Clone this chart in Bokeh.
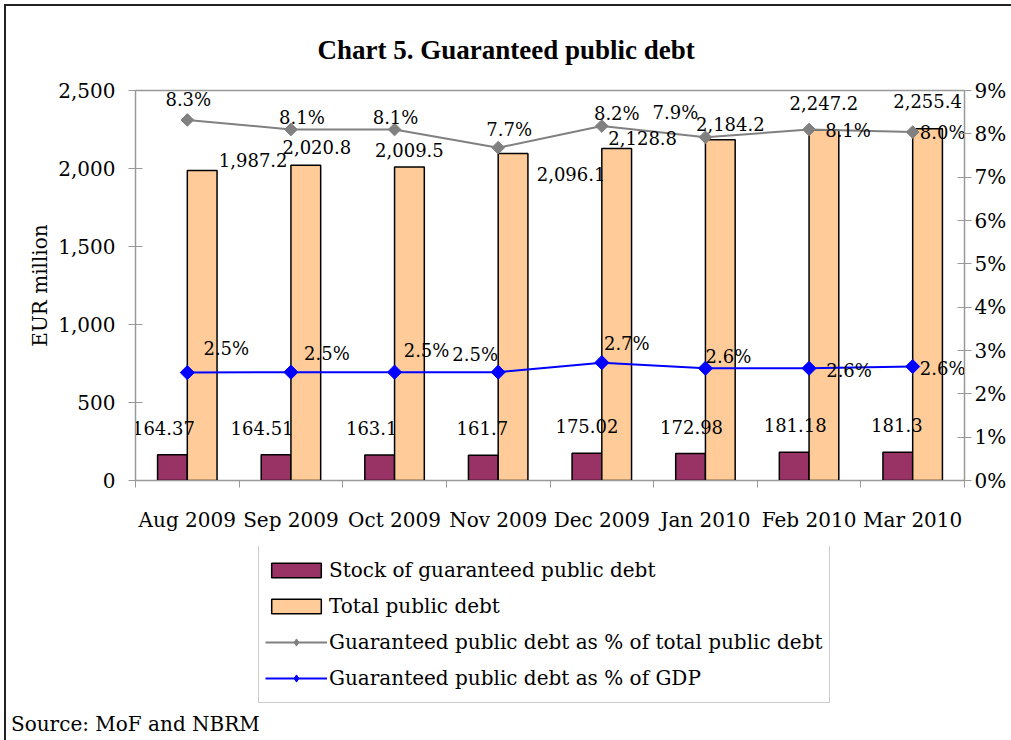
import numpy as np
from bokeh.plotting import figure
from bokeh.layouts import column
from bokeh.models import (Range1d, LinearAxis, FixedTicker, NumeralTickFormatter,
                          PrintfTickFormatter, Legend, LegendItem, Div, ColumnDataSource)
from bokeh.core.properties import value
from bokeh.embed import file_html
from bokeh.resources import INLINE

# ---------------- data ----------------
months = ["Aug 2009", "Sep 2009", "Oct 2009", "Nov 2009", "Dec 2009", "Jan 2010", "Feb 2010", "Mar 2010"]
stock = [164.37, 164.51, 163.1, 161.7, 175.02, 172.98, 181.18, 181.3]
total = [1987.2, 2020.8, 2009.5, 2096.1, 2128.8, 2184.2, 2247.2, 2255.4]
pct_total = [8.32, 8.10, 8.10, 7.68, 8.18, 7.92, 8.10, 8.04]
pct_gdp = [2.49, 2.50, 2.50, 2.50, 2.72, 2.59, 2.59, 2.63]
left_ticks = [0, 500, 1000, 1500, 2000, 2500]
right_ticks = [0, 1, 2, 3, 4, 5, 6, 7, 8, 9]
series_names = ["Stock of guaranteed public debt", "Total public debt",
                "Guaranteed public debt as % of total public debt",
                "Guaranteed public debt as % of GDP"]

# ---------------- label placement (pixels) ----------------
stock_dx = [-9, -14, -8, -1, 0, 1, 1, -1]
stock_dy = [-27] * 8
total_dx = [51, 11, 0, 58, 26, 10, 0, 0]
total_dy = [-10, -18, -17, 20, -10, -16, -27, -28]
ptot_dx = [1, 11, 1, 11, 15, -30, 39, 30]
ptot_dy = [-20, -12, -12, -18, -13, -25, 1, 0]
pgdp_dx = [39, 36, 32, -23, 25, 23, 40, 30]
pgdp_dy = [-24, -19, -22, -18, -19, -12, 2, 2]

FONT = "DejaVu Serif"
MAROON, PEACH, GREY, BLUE = "#993366", "#FFCC99", "#808080", "#0000FF"
idx = np.arange(len(months))
bw = 0.287
x_stock = idx - bw / 2
x_total = idx + bw / 2

W = 1003
p = figure(width=W, height=540, x_range=Range1d(-0.5, 7.5), y_range=Range1d(0, 2500),
           output_backend="svg", toolbar_location=None,
           min_border_left=129, min_border_right=43, min_border_top=84, min_border_bottom=66)
p.extra_y_ranges = {"pct": Range1d(0, 9)}
p.xgrid.visible = False
p.ygrid.visible = False
p.outline_line_color = "#999999"
p.outline_line_width = 1.5
p.background_fill_color = "white"
p.border_fill_color = "white"

# title
p.title.text = "Chart 5. Guaranteed public debt"
p.title.text_font = "Liberation Serif"
p.title.text_font_style = "bold"
p.title.text_font_size = "27px"
p.title.text_color = "black"
p.title.align = "left"
p.title.offset = 182
p.title.standoff = 52

# x axis
xa = p.xaxis[0]
xa.ticker = FixedTicker(ticks=list(idx), minor_ticks=[i - 0.5 for i in range(len(months) + 1)])
xa.major_label_overrides = {int(i): m for i, m in enumerate(months)}
xa.major_tick_line_color = None
xa.major_tick_out = 0
xa.major_tick_in = 0
xa.minor_tick_in = 0
xa.minor_tick_out = 7
xa.minor_tick_line_color = "#999999"
xa.axis_line_color = "#999999"
xa.major_label_text_font = FONT
xa.major_label_text_font_size = "20px"
xa.major_label_text_color = "black"
xa.major_label_standoff = 20

# left axis
ya = p.yaxis[0]
ya.ticker = FixedTicker(ticks=left_ticks, minor_ticks=[])
ya.formatter = NumeralTickFormatter(format="0,0")
ya.major_tick_in = 7
ya.major_tick_out = 7
ya.major_tick_line_color = "#999999"
ya.axis_line_color = "#999999"
ya.major_label_text_font = FONT
ya.major_label_text_font_size = "20px"
ya.major_label_text_color = "black"
ya.major_label_standoff = 13
ya.axis_label = "EUR million"
ya.axis_label_text_font = FONT
ya.axis_label_text_font_size = "20px"
ya.axis_label_text_font_style = "normal"
ya.axis_label_text_color = "black"
ya.axis_label_standoff = 3

# right axis
ra = LinearAxis(y_range_name="pct", ticker=FixedTicker(ticks=right_ticks, minor_ticks=[]),
                formatter=PrintfTickFormatter(format="%d%%"))
ra.major_tick_in = 7
ra.major_tick_out = 7
ra.major_tick_line_color = "#999999"
ra.axis_line_color = "#999999"
ra.major_label_text_font = FONT
ra.major_label_text_font_size = "20px"
ra.major_label_text_color = "black"
ra.major_label_standoff = 3
p.add_layout(ra, "right")

# bars
p.vbar(x=x_stock, top=stock, width=bw, bottom=0, fill_color=MAROON,
       line_color="black", line_width=1.5)
p.vbar(x=x_total, top=total, width=bw, bottom=0, fill_color=PEACH,
       line_color="black", line_width=1.5)

# lines
p.line(idx, pct_total, y_range_name="pct", line_color=GREY, line_width=2)
p.scatter(idx, pct_total, y_range_name="pct", marker="square", angle=np.pi / 4,
          size=9, fill_color=GREY, line_color=GREY)
p.line(idx, pct_gdp, y_range_name="pct", line_color=BLUE, line_width=2)
p.scatter(idx, pct_gdp, y_range_name="pct", marker="square", angle=np.pi / 4,
          size=10, fill_color=BLUE, line_color=BLUE)

# data labels
def labels(xs, ys, texts, dx, dy, yr="default"):
    src = ColumnDataSource(dict(x=list(xs), y=list(ys), t=texts, dx=dx, dy=dy))
    p.text(x="x", y="y", text="t", x_offset="dx", y_offset="dy", source=src,
           y_range_name=yr, text_font=value(FONT), text_font_size="18px",
           text_color="black", text_align="center", text_baseline="middle")

labels(x_stock, stock, [f"{v:g}" for v in stock], stock_dx, stock_dy)
labels(x_total, total, [f"{v:,.1f}" for v in total], total_dx, total_dy)
labels(idx, pct_total, [f"{v:.1f}%" for v in pct_total], ptot_dx, ptot_dy, "pct")
labels(idx, pct_gdp, [f"{v:.1f}%" for v in pct_gdp], pgdp_dx, pgdp_dy, "pct")

# ---------------- legend panel ----------------
H2 = 162
q = figure(width=W, height=H2, x_range=Range1d(0, 1), y_range=Range1d(0, 1),
           output_backend="svg", toolbar_location=None, min_border=0,
           x_axis_location=None, y_axis_location=None)
q.xgrid.visible = False
q.ygrid.visible = False
q.outline_line_color = None
q.background_fill_color = "white"
q.border_fill_color = "white"

nan = [float("nan")]
g_stock = q.vbar(x=nan, top=nan, width=0.1, fill_color=MAROON, line_color="black", line_width=1.5)
g_total = q.vbar(x=nan, top=nan, width=0.1, fill_color=PEACH, line_color="black", line_width=1.5)
g_l1 = q.line(x=nan, y=nan, line_color=GREY, line_width=2)
g_m1 = q.scatter(x=nan, y=nan, marker="diamond", size=12, fill_color=GREY, line_color=GREY)
g_l2 = q.line(x=nan, y=nan, line_color=BLUE, line_width=2)
g_m2 = q.scatter(x=nan, y=nan, marker="diamond", size=12, fill_color=BLUE, line_color=BLUE)

legend = Legend(items=[
    LegendItem(label=series_names[0], renderers=[g_stock]),
    LegendItem(label=series_names[1], renderers=[g_total]),
    LegendItem(label=series_names[2], renderers=[g_l1, g_m1]),
    LegendItem(label=series_names[3], renderers=[g_l2, g_m2]),
], location=(123, 5))
legend.label_text_font = FONT
legend.label_text_font_size = "20px"
legend.label_text_color = "black"
legend.glyph_width = 62
legend.glyph_height = 18
legend.label_height = 36
legend.label_standoff = 2
legend.spacing = 0
legend.padding = 6
legend.margin = 0
legend.border_line_color = "#999999"
legend.border_line_width = 1.5
legend.background_fill_color = "white"
legend.background_fill_alpha = 1
q.add_layout(legend, "center")

source_note = Div(text="Source: MoF and NBRM", width=W, height=22,
                  styles={"font-family": "DejaVu Serif", "font-size": "20px",
                          "line-height": "22px", "color": "black", "padding-left": "0px"})

layout = column(p, q, source_note, spacing=0,
                styles={"margin-left": "4px", "margin-top": "4px",
                        "border-left": "2px solid #222", "border-top": "2px solid #222"})

open("out.html", "w").write(file_html(layout, INLINE))
